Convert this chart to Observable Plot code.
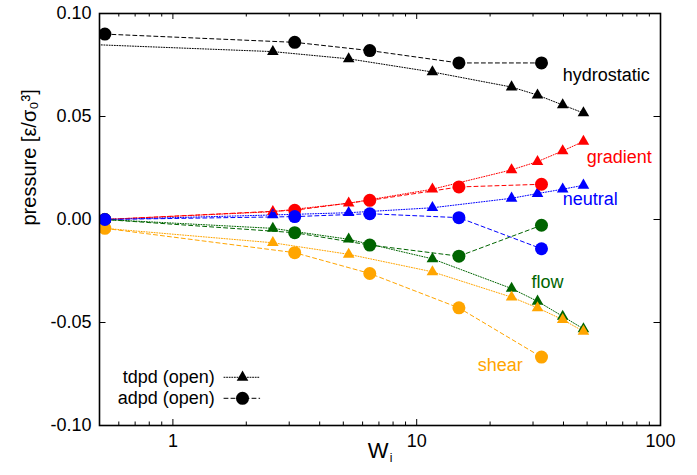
<!DOCTYPE html>
<html>
<head>
<meta charset="utf-8">
<script src="https://cdn.jsdelivr.net/npm/d3@7"></script>
<script src="https://cdn.jsdelivr.net/npm/@observablehq/plot@0.6"></script>
<style>
  body { margin: 0; background: #fff; }
  #chart svg { display: block; }
</style>
</head>
<body>
<div id="chart"></div>
<script>
// Weissenberg numbers sampled by each method
const wiAdpd = [0.526, 3.16, 6.42, 14.9, 32.5];
const wiTdpd = [0.526, 2.57, 5.26, 11.6, 24.5, 31.3, 39.7, 48.3];
// hydrostatic tdpd run starts just below the plotted range
const wiTdpdHydro = [0.45, 2.57, 5.26, 11.6, 24.5, 31.3, 39.7, 48.3];

// adpd (open) pressures
const adpdHydrostatic = [0.090, 0.086, 0.082, 0.076, 0.076];
const adpdGradient    = [0.000, 0.0045, 0.0093, 0.0158, 0.0171];
const adpdNeutral     = [0.000, 0.0014, 0.0028, 0.0009, -0.0142];
const adpdFlow        = [0.000, -0.0064, -0.0124, -0.0178, -0.0028];
const adpdShear       = [-0.0043, -0.0161, -0.0262, -0.0429, -0.0668];

// tdpd (open) pressures
const tdpdHydrostatic = [0.085, 0.0815, 0.078, 0.0716, 0.0643, 0.0604, 0.0556, 0.0517];
const tdpdGradient    = [0.000, 0.0038, 0.0079, 0.0147, 0.0241, 0.0281, 0.0333, 0.0379];
const tdpdNeutral     = [0.000, 0.0022, 0.0033, 0.0057, 0.0103, 0.0126, 0.0147, 0.0166];
const tdpdFlow        = [0.000, -0.0043, -0.0096, -0.0191, -0.0335, -0.0397, -0.0470, -0.0531];
const tdpdShear       = [-0.0043, -0.0113, -0.0169, -0.0254, -0.0377, -0.0429, -0.0486, -0.0543];

const components = ["hydrostatic", "gradient", "neutral", "flow", "shear"];
const componentColors = ["#000000", "#ff0000", "#0000ff", "#006400", "#ffa500"];

// label anchors (left edge of each label)
const labelWi = [39.7, 49.8, 39.7, 29.6, 17.8];
const labelP  = [0.070, 0.030, 0.0096, -0.0303, -0.0707];

const yTicks = [-0.10, -0.05, 0.00, 0.05, 0.10];
const xMajorTicks = [1, 10, 100];
const xMinorTicks = [0.6, 0.7, 0.8, 0.9, 2, 3, 4, 5, 6, 7, 8, 9, 20, 30, 40, 50, 60, 70, 80, 90];

const legendLabels = ["tdpd (open)", "adpd (open)"];
const legendP = [-0.0766, -0.0868];

// long tables built from the arrays above
const adpdSeries = [adpdHydrostatic, adpdGradient, adpdNeutral, adpdFlow, adpdShear];
const tdpdSeries = [tdpdHydrostatic, tdpdGradient, tdpdNeutral, tdpdFlow, tdpdShear];

const adpd = adpdSeries.flatMap((vals, k) =>
  vals.map((p, i) => ({component: components[k], wi: wiAdpd[i], p})));
const tdpd = tdpdSeries.flatMap((vals, k) =>
  vals.map((p, i) => ({component: components[k], wi: (k === 0 ? wiTdpdHydro : wiTdpd)[i], p})));

// circles are stacked with the neutral series on top
const adpdStack = [...adpd.filter(d => d.component !== "neutral"), ...adpd.filter(d => d.component === "neutral")];

const labels = components.map((c, k) => ({component: c, wi: labelWi[k], p: labelP[k]}));

const legendRows = legendLabels.map((t, k) => ({label: t, p: legendP[k]}));
const legendLines = legendRows.flatMap(r => [
  {label: r.label, wi: 1.62, p: r.p},
  {label: r.label, wi: 2.27, p: r.p}
]);

const W = 697, H = 475;
const mL = 99, mR = 37, mT = 13, mB = 50;
const frameW = W - mL - mR, frameH = H - mT - mB;

const colorScale = {domain: components, range: componentColors};
const dotted = "1,1.6";
const dashed = "4,3";

const chart = Plot.plot({
  width: W,
  height: H,
  marginLeft: mL,
  marginRight: mR,
  marginTop: mT,
  marginBottom: mB,
  style: {
    fontFamily: "'Liberation Sans', Arial, Helvetica, sans-serif",
    fontSize: "18px",
    color: "#000",
    background: "#fff",
    overflow: "visible"
  },
  x: {type: "log", domain: [0.5, 100]},
  y: {domain: [-0.1, 0.1]},
  color: colorScale,
  marks: [
    // tick marks pointing inward on all four sides
    Plot.tickX(xMajorTicks, {insetTop: frameH - 6, stroke: "#000", strokeWidth: 1}),
    Plot.tickX(xMajorTicks, {insetBottom: frameH - 6, stroke: "#000", strokeWidth: 1}),
    Plot.tickX(xMinorTicks, {insetTop: frameH - 3.5, stroke: "#000", strokeWidth: 1}),
    Plot.tickX(xMinorTicks, {insetBottom: frameH - 3.5, stroke: "#000", strokeWidth: 1}),
    Plot.tickY(yTicks, {insetRight: frameW - 6.5, stroke: "#000", strokeWidth: 1}),
    Plot.tickY(yTicks, {insetLeft: frameW - 6.5, stroke: "#000", strokeWidth: 1}),

    Plot.axisX(xMajorTicks, {tickSize: 0, tickPadding: 9, tickFormat: d => String(d), fontSize: 18, label: null}),
    Plot.axisY(yTicks, {tickSize: 0, tickPadding: 8, tickFormat: d => d.toFixed(2), fontSize: 18, label: null}),

    // tdpd: dotted lines with triangles
    Plot.line(tdpd, {x: "wi", y: "p", z: "component", stroke: "component", strokeWidth: 1,
      strokeDasharray: dotted, clip: true}),
    Plot.dot(tdpd, {x: "wi", y: "p", fill: "component", symbol: "triangle", r: 4.3, clip: true}),

    // adpd: dashed lines with circles
    Plot.line(adpd, {x: "wi", y: "p", z: "component", stroke: "component", strokeWidth: 1,
      strokeDasharray: dashed, clip: true}),
    Plot.dot(adpdStack, {x: "wi", y: "p", fill: "component", r: 6.5, clip: true}),

    // component labels
    Plot.text(labels, {x: "wi", y: "p", text: "component", fill: "component",
      textAnchor: "start", fontSize: 18}),

    // key
    Plot.text(legendRows, {x: () => 1.486, y: "p", text: "label", textAnchor: "end", fill: "#000", fontSize: 18}),
    Plot.line(legendLines.filter(d => d.label === legendLabels[0]),
      {x: "wi", y: "p", stroke: "#000", strokeWidth: 1, strokeDasharray: dotted}),
    Plot.line(legendLines.filter(d => d.label === legendLabels[1]),
      {x: "wi", y: "p", stroke: "#000", strokeWidth: 1, strokeDasharray: dashed}),
    Plot.dot(legendRows.slice(0, 1), {x: () => 1.93, y: "p", symbol: "triangle", r: 4.3, fill: "#000"}),
    Plot.dot(legendRows.slice(1), {x: () => 1.93, y: "p", r: 6.5, fill: "#000"}),

    // axis titles
    Plot.text(["pressure [ε/σ₀³]"], {frameAnchor: "left", rotate: -90, dx: -70, dy: 6, fontSize: 20, fill: "#000"}),
    Plot.text(["W"], {frameAnchor: "bottom", dx: -2, dy: 32, fontSize: 22, fill: "#000"}),
    Plot.text(["i"], {frameAnchor: "bottom", dx: 11, dy: 36, fontSize: 12, fill: "#000"}),

    Plot.frame({stroke: "#000", strokeWidth: 1.6})
  ]
});

document.getElementById("chart").appendChild(chart);
</script>
</body>
</html>
